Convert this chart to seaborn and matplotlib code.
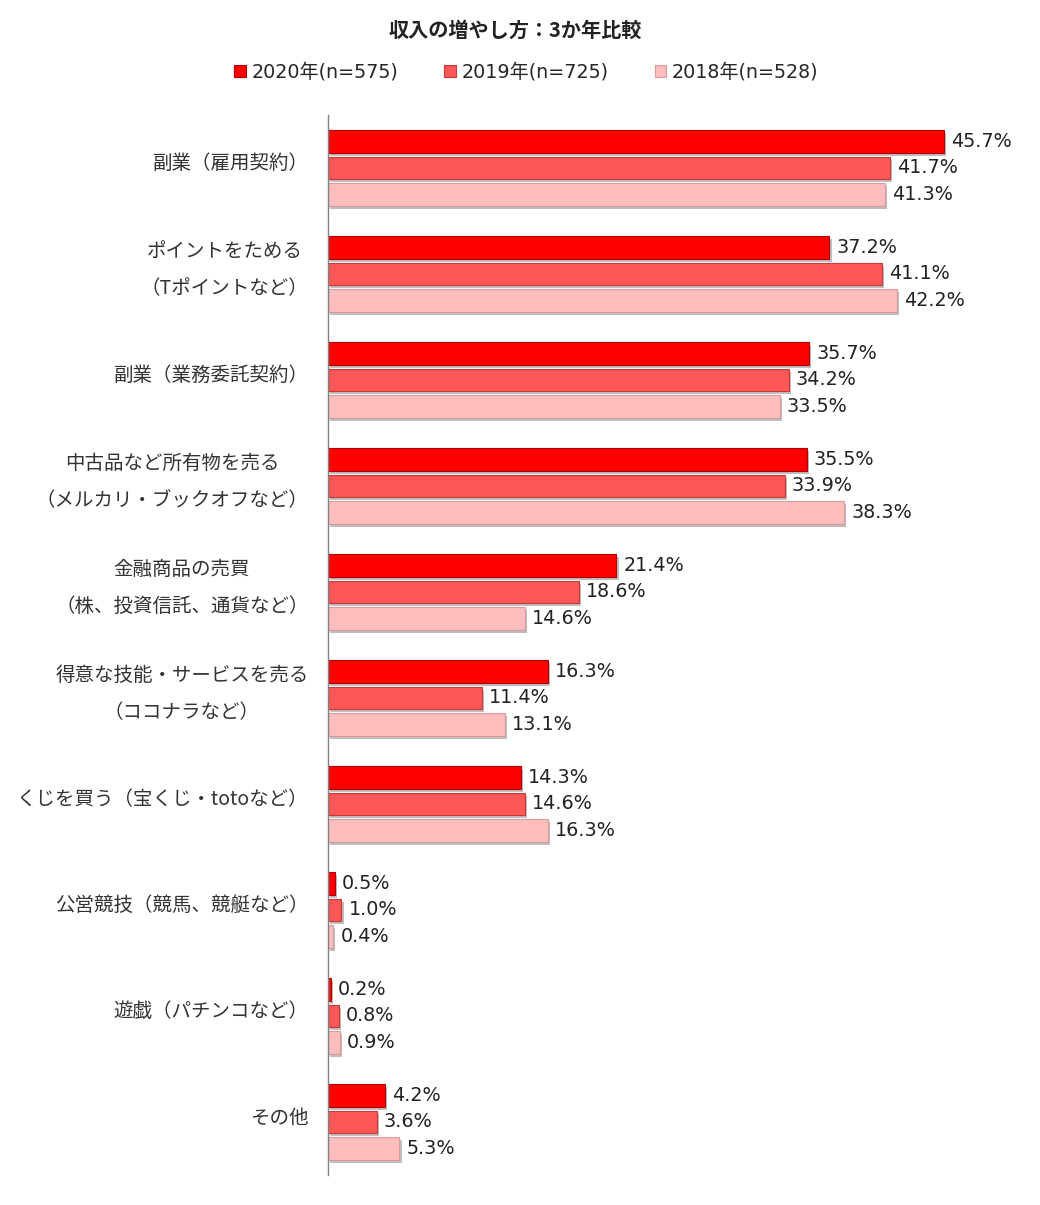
import matplotlib
matplotlib.use("Agg")
import matplotlib.pyplot as plt
import matplotlib.patheffects as pe
import matplotlib.transforms as mtransforms
from matplotlib.patches import Patch
import seaborn as sns
import pandas as pd

categories = [
    "副業（雇用契約）",
    "ポイントをためる\n（Tポイントなど）",
    "副業（業務委託契約）",
    "中古品など所有物を売る\n（メルカリ・ブックオフなど）",
    "金融商品の売買\n（株、投資信託、通貨など）",
    "得意な技能・サービスを売る\n（ココナラなど）",
    "くじを買う（宝くじ・totoなど）",
    "公営競技（競馬、競艇など）",
    "遊戯（パチンコなど）",
    "その他",
]
series_names = ["2020年(n=575)", "2019年(n=725)", "2018年(n=528)"]
v2020 = [45.7, 37.2, 35.7, 35.5, 21.4, 16.3, 14.3, 0.5, 0.2, 4.2]
v2019 = [41.7, 41.1, 34.2, 33.9, 18.6, 11.4, 14.6, 1.0, 0.8, 3.6]
v2018 = [41.3, 42.2, 33.5, 38.3, 14.6, 13.1, 16.3, 0.4, 0.9, 5.3]
title = "収入の増やし方：3か年比較"

face_colors = ["#FF0000", "#FF5656", "#FFBDBD"]
edge_colors = ["#B00000", "#C83a3a", "#D89a9a"]

rows = []
for name, vals in zip(series_names, [v2020, v2019, v2018]):
    for c, v in zip(categories, vals):
        rows.append({"category": c, "series": name, "value": v})
df = pd.DataFrame(rows)

sns.set_theme(style="white")
plt.rcParams["font.family"] = ["Noto Sans CJK JP", "DejaVu Sans"]

fig = plt.figure(figsize=(10.4, 12.05), dpi=100)
ax = fig.add_axes([328 / 1040, 1 - 1175 / 1205, (1029 - 328) / 1040, (1175 - 115) / 1205])

sns.barplot(data=df, x="value", y="category", hue="series", orient="h",
            order=categories, hue_order=series_names,
            palette=face_colors, saturation=1, width=0.75, gap=0.15, ax=ax,
            legend=False, errorbar=None)

shadow = [pe.SimplePatchShadow(offset=(1.5, -2), shadow_rgbFace="#808080", alpha=0.5), pe.Normal()]
for cont, ec in zip(ax.containers, edge_colors):
    for p in cont:
        p.set_edgecolor(ec)
        p.set_linewidth(0.8)
        p.set_path_effects(shadow)
    ax.bar_label(cont, fmt="%.1f%%", padding=5, fontsize=13.8,
                 family=["DejaVu Sans"], color="#222222")

ax.set_xlim(0, 52)
ax.set_ylim(len(categories) - 0.5, -0.5)
ax.set_xlabel("")
ax.set_ylabel("")
ax.set_xticks([])
ax.set_yticks(range(len(categories)))
ax.set_yticklabels([])
for s in ["top", "right", "bottom"]:
    ax.spines[s].set_visible(False)
ax.spines["left"].set_color("#808080")
ax.spines["left"].set_linewidth(1)
ax.tick_params(axis="y", length=0)

ytrans = ax.get_yaxis_transform()
for i, c in enumerate(categories):
    off = mtransforms.ScaledTranslation(-14 / 72.0, 3 / 72.0, fig.dpi_scale_trans)
    ax.text(0, i, c, transform=ytrans + off, ha="right", va="center",
            multialignment="center", linespacing=1.98, fontsize=14,
            color="#333333")

fig.text(0.495, 1 - 30 / 1205, title, ha="center", va="center",
         fontsize=14.5, fontweight="bold", color="#222222")

handles = [Patch(facecolor=f, edgecolor=e, linewidth=0.8) for f, e in zip(face_colors, edge_colors)]
fig.legend(handles, series_names, loc="center", bbox_to_anchor=(0.506, 1 - 72 / 1205),
           ncol=3, frameon=False, handlelength=0.6, handleheight=0.6,
           handletextpad=0.3, columnspacing=2.4,
           prop={"family": ["DejaVu Sans", "Noto Sans CJK JP"], "size": 13.8})

fig.savefig("out.png", dpi=100, facecolor="white")
